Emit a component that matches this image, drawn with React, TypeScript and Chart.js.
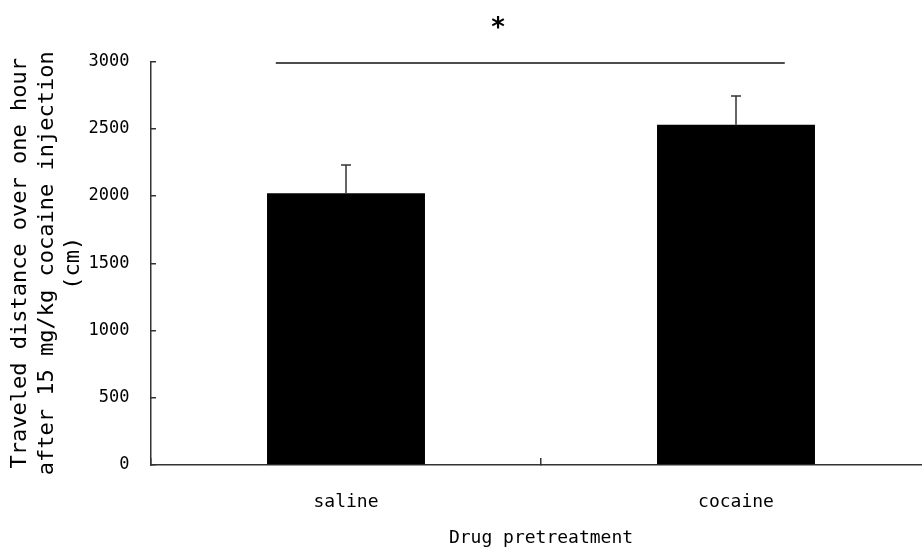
import { useEffect, useRef } from "react";
import { Chart, registerables } from "chart.js";

Chart.register(...registerables);

const categories = ["saline", "cocaine"];
const means = [2020, 2530];
const errors = [210, 213];
const yMin = 0;
const yMax = 3000;
const yStep = 500;
const xTitle = "Drug pretreatment";
const yTitle = [
  "Traveled distance over one hour",
  "after 15 mg/kg cocaine injection",
  "(cm)",
];
// significance bracket (category units / value units)
const sigFrom = -0.18;
const sigTo = 1.125;
const sigValue = 2988;
const sigLabel = "*";
const sigLabelAt = 0.39;
const sigLabelValue = 3293;

const MONO = "'DejaVu Sans Mono', 'Liberation Mono', monospace";

const annotationPlugin = {
  id: "errAndSig",
  afterDatasetsDraw(chart: any) {
    const { ctx } = chart;
    const xs = chart.scales.x;
    const ys = chart.scales.y;
    const meta = chart.getDatasetMeta(0);
    ctx.save();
    ctx.strokeStyle = "#333";
    ctx.lineWidth = 1.5;
    meta.data.forEach((bar: any, i: number) => {
      const cx = bar.x;
      const top = ys.getPixelForValue(means[i]);
      const end = ys.getPixelForValue(means[i] + errors[i]);
      ctx.beginPath();
      ctx.moveTo(cx, top);
      ctx.lineTo(cx, end);
      ctx.moveTo(cx - 5, end);
      ctx.lineTo(cx + 5, end);
      ctx.stroke();
    });
    // significance line
    const x1 = xs.getPixelForValue(sigFrom);
    const x2 = xs.getPixelForValue(sigTo);
    const yl = ys.getPixelForValue(sigValue);
    ctx.strokeStyle = "#111";
    ctx.lineWidth = 1.5;
    ctx.beginPath();
    ctx.moveTo(x1, yl);
    ctx.lineTo(x2, yl);
    ctx.stroke();
    // star
    ctx.fillStyle = "#000";
    ctx.font = "bold 26px 'DejaVu Sans', sans-serif";
    ctx.textAlign = "center";
    ctx.textBaseline = "alphabetic";
    const m = ctx.measureText(sigLabel);
    const sx = xs.getPixelForValue(sigLabelAt);
    const sy = ys.getPixelForValue(sigLabelValue);
    const asc = m.actualBoundingBoxAscent || 0;
    const desc = m.actualBoundingBoxDescent || 0;
    ctx.fillText(sigLabel, sx, sy + (asc - desc) / 2);
    ctx.restore();
  },
};

export default function App() {
  const ref = useRef<HTMLCanvasElement | null>(null);

  useEffect(() => {
    document.documentElement.style.overflow = "hidden";
    document.body.style.overflow = "hidden";
    const canvas = ref.current;
    if (!canvas) return;
    const chart = new Chart(canvas, {
      type: "bar",
      data: {
        labels: categories,
        datasets: [
          {
            data: means,
            backgroundColor: "#000",
            borderWidth: 0,
            barPercentage: 0.405,
            categoryPercentage: 1,
          },
        ],
      },
      options: {
        animation: false,
        responsive: false,
        maintainAspectRatio: false,
        devicePixelRatio: 1,
        layout: { padding: { top: 61.5, left: 0, right: 0, bottom: 0 } },
        plugins: {
          legend: { display: false },
          tooltip: { enabled: false },
          title: { display: false },
        },
        scales: {
          x: {
            type: "category",
            offset: true,
            grid: {
              offset: true,
              drawOnChartArea: false,
              drawTicks: true,
              tickLength: -7,
              color: "#333",
              lineWidth: 1.5,
            },
            border: { display: true, color: "#333", width: 1.5 },
            ticks: {
              color: "#000",
              font: { family: MONO, size: 18 },
              padding: 34,
              maxRotation: 0,
            },
            title: {
              display: true,
              text: xTitle,
              color: "#000",
              font: { family: MONO, size: 18 },
              padding: { top: 0, bottom: 1.2 },
            },
            afterFit: (scale: any) => {
              scale.height = 85;
            },
          },
          y: {
            min: yMin,
            max: yMax,
            grid: {
              drawOnChartArea: false,
              drawTicks: true,
              tickLength: -5,
              color: "#333",
              lineWidth: 1.5,
            },
            border: { display: true, color: "#333", width: 1.5 },
            ticks: {
              stepSize: yStep,
              color: "#000",
              font: { family: MONO, size: 17 },
              padding: 26.5,
              callback: (v: any) => String(v),
            },
            title: {
              display: true,
              text: yTitle,
              color: "#000",
              font: { family: MONO, size: 22, lineHeight: 1.2 },
              padding: { top: 7.5, bottom: 0 },
            },
            afterFit: (scale: any) => {
              scale.width = 151;
            },
          },
        },
      },
      plugins: [annotationPlugin],
    });
    return () => chart.destroy();
  }, []);

  return (
    <div
      style={{
        position: "absolute",
        left: 0,
        top: 0,
        width: 931,
        height: 550,
        overflow: "hidden",
        background: "#fff",
      }}
    >
      <canvas ref={ref} width={931} height={550} style={{ display: "block" }} />
    </div>
  );
}
